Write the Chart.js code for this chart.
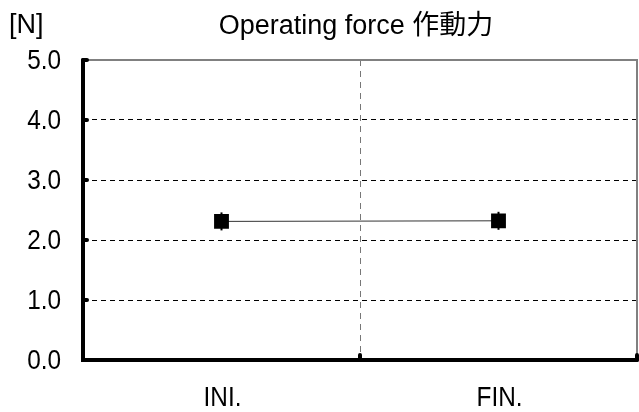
<!DOCTYPE html>
<html>
<head>
<meta charset="utf-8">
<script src="https://cdn.jsdelivr.net/npm/chart.js@4.4.1/dist/chart.umd.min.js"></script>
<style>
  html, body { margin: 0; padding: 0; background: #fff; overflow: hidden; }
  #wrap { width: 639px; height: 412px; overflow: hidden; }
  canvas { display: block; }
</style>
</head>
<body>
<div id="wrap"><canvas id="force"></canvas></div>
<script>
const categories = ["INI.", "FIN."];
const forceValues = [2.31, 2.32];
const forceErrors = [0.15, 0.15];
const yTicks = [0, 1, 2, 3, 4, 5];

const FONT = "'Liberation Sans', 'Noto Sans CJK JP', sans-serif";
const TICK_SIZE = 28;
const NARROW = 0.87; // no narrow face installed, so squeeze the tick labels

function narrowText(ctx, text, x, y, align) {
    ctx.save();
    ctx.translate(x, y);
    ctx.scale(NARROW, 1);
    ctx.textAlign = align;
    ctx.fillText(text, 0, 0);
    ctx.restore();
}

// frame, inner tick marks, tick labels, title and unit label
const framePlugin = {
    id: "frame",
    afterDatasetsDraw(chart) {
        let ctx = chart.ctx;
        let a = chart.chartArea;
        let y = chart.scales.y;
        let x = chart.scales.x;
        ctx.save();

        // error bars
        ctx.strokeStyle = "#000";
        ctx.lineWidth = 2;
        forceValues.forEach((v, i) => {
            let px = x.getPixelForValue(i);
            ctx.beginPath();
            ctx.moveTo(px, y.getPixelForValue(v - forceErrors[i]));
            ctx.lineTo(px, y.getPixelForValue(v + forceErrors[i]));
            ctx.stroke();
        });

        // top and right border
        ctx.strokeStyle = "#808080";
        ctx.lineWidth = 2;
        ctx.beginPath();
        ctx.moveTo(a.left, a.top);
        ctx.lineTo(a.right, a.top);
        ctx.lineTo(a.right, a.bottom);
        ctx.stroke();

        // thick axes
        ctx.strokeStyle = "#000";
        ctx.lineWidth = 4;
        ctx.lineCap = "round";
        ctx.beginPath();
        ctx.moveTo(a.left, a.top);
        ctx.lineTo(a.left, a.bottom);
        ctx.lineTo(a.right, a.bottom);
        ctx.stroke();

        // tick marks pointing inward
        yTicks.forEach(t => {
            let py = y.getPixelForValue(t);
            ctx.beginPath();
            ctx.moveTo(a.left, py);
            ctx.lineTo(a.left + 4, py);
            ctx.stroke();
        });
        [(a.left + a.right) / 2, a.right].forEach(px => {
            ctx.beginPath();
            ctx.moveTo(px, a.bottom);
            ctx.lineTo(px, a.bottom - 5);
            ctx.stroke();
        });

        // tick labels
        ctx.fillStyle = "#000";
        ctx.font = TICK_SIZE + "px " + FONT;
        ctx.textBaseline = "middle";
        yTicks.forEach(t => {
            narrowText(ctx, t.toFixed(1), a.left - 22, y.getPixelForValue(t) + 1, "right");
        });
        categories.forEach((c, i) => {
            narrowText(ctx, c, x.getPixelForValue(i) + 1, a.bottom + 38, "center");
        });

        // title and unit
        ctx.font = "27px " + FONT;
        ctx.textAlign = "center";
        ctx.fillText("Operating force 作動力", 356, 27);
        ctx.textAlign = "left";
        ctx.fillText("[N]", 9, 26);
        ctx.restore();
    }
};

new Chart(document.getElementById("force").getContext("2d"), {
    type: "line",
    data: {
        labels: categories,
        datasets: [{
            data: forceValues,
            borderColor: "#333",
            borderWidth: 1,
            pointStyle: "rect",
            pointRadius: 10.5,
            pointBackgroundColor: "#000",
            pointBorderColor: "#000",
            pointBorderWidth: 0
        }]
    },
    options: {
        responsive: true,
        maintainAspectRatio: false,
        animation: false,
        layout: { autoPadding: false, padding: { left: 0, top: 60, right: 2, bottom: 0 } },
        plugins: { legend: { display: false }, tooltip: { enabled: false } },
        scales: {
            x: {
                offset: true,
                grid: {
                    offset: true,
                    drawTicks: false,
                    color: "#777",
                    lineWidth: 1
                },
                border: { display: false, dash: [6, 5] },
                ticks: { display: false },
                afterFit: s => { s.height = 52; }
            },
            y: {
                min: 0,
                max: 5,
                grid: {
                    drawTicks: false,
                    color: c => (c.tick.value === 0 || c.tick.value === 5) ? "rgba(0,0,0,0)" : "#000",
                    lineWidth: 1
                },
                border: { display: false, dash: [5, 4] },
                ticks: { stepSize: 1, display: false },
                afterFit: s => { s.width = 83; }
            }
        }
    },
    plugins: [framePlugin]
});
</script>
</body>
</html>
